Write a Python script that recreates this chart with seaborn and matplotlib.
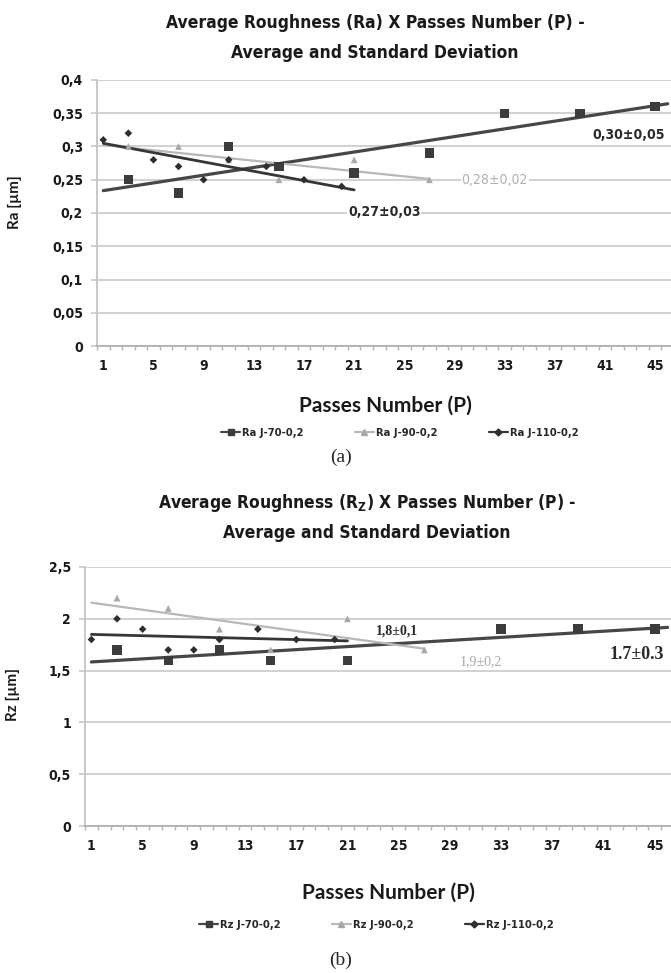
import numpy as np
import pandas as pd
import matplotlib
matplotlib.use("Agg")
import matplotlib.pyplot as plt
from matplotlib.lines import Line2D
import seaborn as sns

# (a) average roughness Ra [um] per passes number
ra_series = ["Ra J-70-0,2", "Ra J-90-0,2", "Ra J-110-0,2"]
ra_p_70 = [3, 7, 11, 15, 21, 27, 33, 39, 45]
ra_70 = [0.25, 0.23, 0.30, 0.27, 0.26, 0.29, 0.35, 0.35, 0.36]
ra_p_90 = [3, 7, 11, 15, 21, 27]
ra_90 = [0.30, 0.30, 0.28, 0.25, 0.28, 0.25]
ra_p_110 = [1, 3, 5, 7, 9, 11, 14, 17, 20]
ra_110 = [0.31, 0.32, 0.28, 0.27, 0.25, 0.28, 0.27, 0.25, 0.24]
ra_notes = ["0,30±0,05", "0,28±0,02", "0,27±0,03"]

# (b) average roughness Rz [um] per passes number
rz_series = ["Rz J-70-0,2", "Rz J-90-0,2", "Rz J-110-0,2"]
rz_p_70 = [3, 7, 11, 15, 21, 33, 39, 45]
rz_70 = [1.7, 1.6, 1.7, 1.6, 1.6, 1.9, 1.9, 1.9]
rz_p_90 = [3, 7, 11, 15, 21, 27]
rz_90 = [2.2, 2.1, 1.9, 1.7, 2.0, 1.7]
rz_p_110 = [1, 3, 5, 7, 9, 11, 14, 17, 20]
rz_110 = [1.8, 2.0, 1.9, 1.7, 1.7, 1.8, 1.9, 1.8, 1.8]
rz_notes = ["1.7±0.3", "1,9±0,2", "1,8±0,1"]

# trendlines run from the first category to the last row of each series
trend_end = [46, 27, 21]

x_ticks = list(range(1, 46, 4))
ra_ticks = [0, 0.05, 0.1, 0.15, 0.2, 0.25, 0.3, 0.35, 0.4]
ra_ticklabels = ["0", "0,05", "0,1", "0,15", "0,2", "0,25", "0,3", "0,35", "0,4"]
rz_ticks = [0, 0.5, 1, 1.5, 2, 2.5]
rz_ticklabels = ["0", "0,5", "1", "1,5", "2", "2,5"]

# styles
colors = ["#3c3c3c", "#a8a8a8", "#2e2e2e"]
line_colors = ["#474747", "#b8b8b8", "#363636"]
line_widths = [2.3, 1.6, 2.0]
markers = ["s", "^", "D"]
msizes = [46, 24, 15]

sns.set_style("white")
plt.rcParams["font.family"] = ["Lato", "DejaVu Sans"]
title_font = dict(family="DejaVu Sans", stretch="condensed", fontweight="bold",
                  fontsize=12.5, color="#1a1a1a")
small_font = dict(family="DejaVu Sans", stretch="condensed", weight="bold",
                  size=8)


def draw_panel(ax, names, xs, ys, ticks, ticklabels, ylim, ylabel):
    df = pd.concat([pd.DataFrame({"P": x, "val": y, "series": n})
                    for n, x, y in zip(names, xs, ys)])
    # trendlines first, markers on top
    for i, (x, y) in enumerate(zip(xs, ys)):
        coef = np.polyfit(x, y, 1)
        xx = np.array([1, trend_end[i]])
        sns.lineplot(x=xx, y=np.polyval(coef, xx), ax=ax, color=line_colors[i],
                     lw=line_widths[i], zorder=2)
    sns.scatterplot(data=df, x="P", y="val", hue="series", style="series",
                    size="series", palette=dict(zip(names, colors)),
                    markers=dict(zip(names, markers)),
                    sizes=dict(zip(names, msizes)), edgecolor="none",
                    legend=False, ax=ax, zorder=3)
    ax.set_xlim(0.5, 46.5)
    ax.set_ylim(*ylim)
    tick_font = dict(family="DejaVu Sans", stretch="condensed",
                     fontweight="bold", fontsize=10, color="#1a1a1a")
    ax.set_yticks(ticks)
    ax.set_yticklabels(ticklabels, **tick_font)
    ax.set_xticks(x_ticks)
    ax.set_xticklabels([str(t) for t in x_ticks], **tick_font)
    ax.set_xticks(np.arange(0.5, 47, 1), minor=True)
    ax.grid(axis="y", color="#d2d2d2", lw=1.5, zorder=0)
    ax.grid(axis="x", visible=False)
    for s in ["top", "right"]:
        ax.spines[s].set_visible(False)
    ax.spines["left"].set_color("#c8c8c8")
    ax.spines["left"].set_linewidth(1.4)
    ax.spines["bottom"].set_color("#b4b4b4")
    ax.spines["bottom"].set_linewidth(1.4)
    ax.tick_params(axis="x", which="major", length=0, pad=9)
    ax.tick_params(axis="x", which="minor", length=3, width=1, color="#b4b4b4",
                   direction="out", bottom=True)
    ax.tick_params(axis="y", length=4, width=1.2, color="#c8c8c8", left=True,
                   pad=6)
    ax.set_ylabel(ylabel, fontsize=11, fontweight="bold", color="#1a1a1a")
    ax.set_xlabel("Passes Number (P)", fontsize=15, fontweight="bold",
                  color="#1a1a1a")
    handles = [Line2D([], [], color=line_colors[i], lw=1.6, marker=markers[i],
                      markersize=[5, 4, 3.5][i], markerfacecolor=colors[i],
                      markeredgecolor=colors[i])
               for i in range(3)]
    return handles


fig = plt.figure(figsize=(6.71, 9.73), dpi=100)

# panel (a)
ax1 = fig.add_axes([97 / 671, 1 - 346 / 973, 577 / 671, 266 / 973])
h1 = draw_panel(ax1, ra_series, [ra_p_70, ra_p_90, ra_p_110],
                [ra_70, ra_90, ra_110], ra_ticks, ra_ticklabels, (0, 0.4),
                "Ra [µm]")
ax1.yaxis.set_label_coords(-0.13, 0.54)
ax1.xaxis.set_label_coords(0.5, -0.185)
ax1.text(42.9, 0.317, ra_notes[0], ha="center", va="center", fontsize=10,
         fontweight="bold", color="#2a2a2a", family="DejaVu Sans",
         stretch="condensed")
ax1.text(32.2, 0.249, ra_notes[1], ha="center", va="center", fontsize=10,
         color="#b0b0b0", family="DejaVu Sans", stretch="condensed",
         bbox=dict(facecolor="white", edgecolor="none", pad=0.5))
ax1.text(23.4, 0.201, ra_notes[2], ha="center", va="center", fontsize=10,
         fontweight="bold", color="#2a2a2a", family="DejaVu Sans",
         stretch="condensed",
         bbox=dict(facecolor="white", edgecolor="none", pad=0.5))
fig.legend(h1, ra_series, loc="center", bbox_to_anchor=(0.596, 0.555), ncol=3,
           frameon=False, handlelength=1.7, columnspacing=4.6,
           handletextpad=0.2, prop=small_font)
fig.text(0.559, 0.976, "Average Roughness (Ra) X Passes Number (P) -",
         ha="center", va="center", **title_font)
fig.text(0.559, 0.9455, "Average and Standard Deviation", ha="center",
         va="center", **title_font)
fig.text(0.508, 0.530, "(a)", ha="center", va="center", fontsize=14,
         family="Liberation Serif")

# panel (b)
ax2 = fig.add_axes([85 / 671, 1 - 826 / 973, 589 / 671, 259 / 973])
h2 = draw_panel(ax2, rz_series, [rz_p_70, rz_p_90, rz_p_110],
                [rz_70, rz_90, rz_110], rz_ticks, rz_ticklabels, (0, 2.5),
                "Rz [µm]")
ax2.yaxis.set_label_coords(-0.11, 0.506)
ax2.xaxis.set_label_coords(0.516, -0.22)
ax2.text(43.6, 1.66, rz_notes[0], ha="center", va="center", fontsize=13,
         fontweight="bold", color="#2a2a2a", family="Liberation Serif")
ax2.text(31.4, 1.59, rz_notes[1], ha="center", va="center", fontsize=10,
         color="#a8a8a8", family="Liberation Serif")
ax2.text(24.9, 1.885, rz_notes[2], ha="center", va="center", fontsize=10,
         fontweight="bold", color="#2a2a2a", family="Liberation Serif")
fig.legend(h2, rz_series, loc="center", bbox_to_anchor=(0.561, 0.049), ncol=3,
           frameon=False, handlelength=1.7, columnspacing=4.6,
           handletextpad=0.2, prop=small_font)
fig.text(0.547, 0.483,
         r"Average Roughness (R$_\mathregular{Z}$) X Passes Number (P) -",
         ha="center", va="center", **title_font)
fig.text(0.547, 0.452, "Average and Standard Deviation", ha="center",
         va="center", **title_font)
fig.text(0.508, 0.0134, "(b)", ha="center", va="center", fontsize=14,
         family="Liberation Serif")

fig.savefig("out.png", dpi=100)
